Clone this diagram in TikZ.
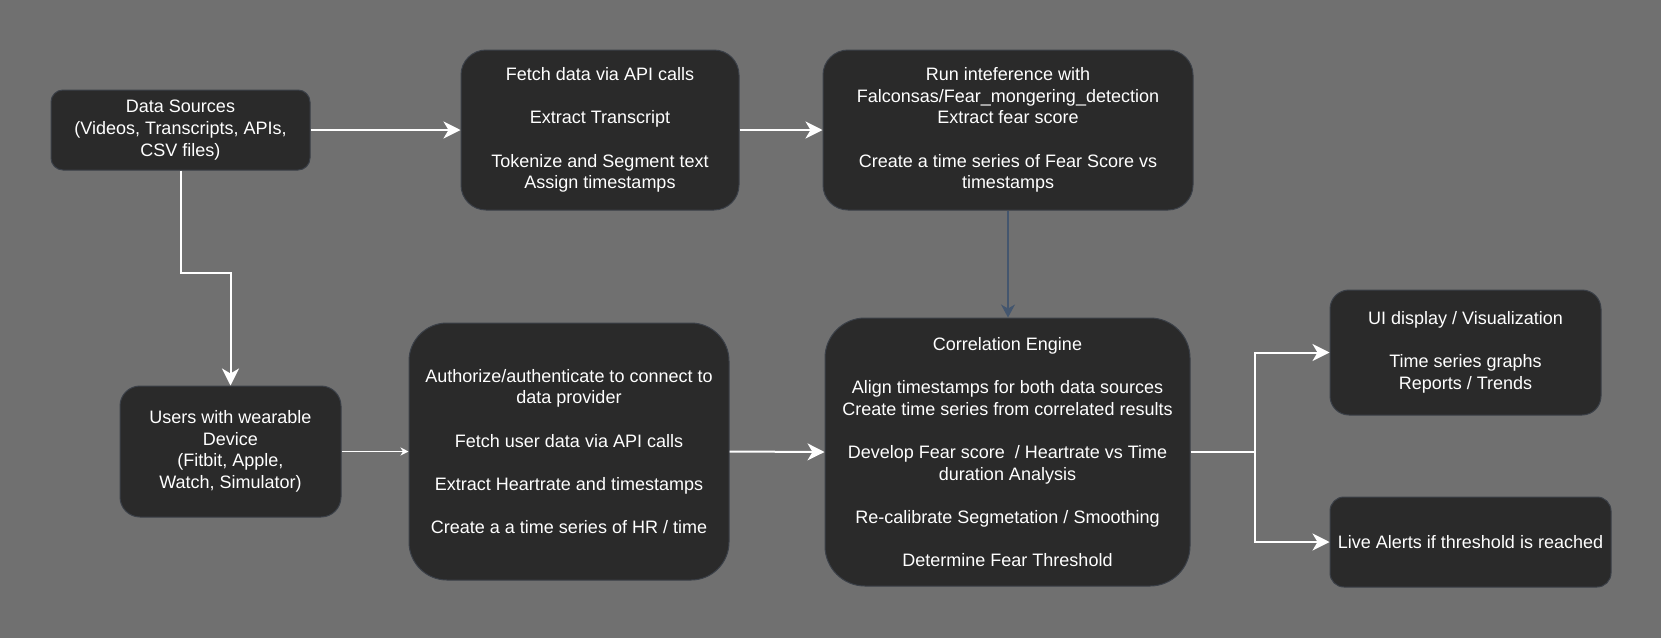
\documentclass[tikz,border=0pt]{standalone}
\usepackage{fontspec}
\setmainfont{Liberation Sans}
\usetikzlibrary{arrows.meta}
\definecolor{bg}{HTML}{707070}
\definecolor{boxfill}{HTML}{2A2A2A}
\definecolor{boxline}{HTML}{3B4048}
\definecolor{slate}{HTML}{44566E}
\begin{document}
\begin{tikzpicture}[x=1pt,y=-1pt,
  box/.style={draw=boxline, line width=1pt, fill=boxfill, text=white, align=center,
    font=\fontsize{18}{21.6}\selectfont, inner sep=0pt},
  flow/.style={draw=white, line width=2pt, -{Stealth[length=17pt,width=17pt,inset=5pt]}},
  thinflow/.style={draw=white, line width=1pt, -{Stealth[length=8pt,width=8pt,inset=2.5pt]}},
  slateflow/.style={draw=slate, line width=1.5pt, -{Stealth[length=13pt,width=14pt,inset=4pt]}},
]
\fill[bg] (0,0) rectangle (1661,638);
\useasboundingbox (0,0) rectangle (1661,638);

\node[box, minimum width=259pt, minimum height=80pt, rounded corners=12pt] (ds) at (180.5,130)
  {Data Sources\\(Videos, Transcripts, APIs,\\CSV files)};
\node[box, minimum width=278pt, minimum height=160pt, rounded corners=25pt] (fetch) at (600,130)
  {Fetch data via API calls\\[21.6pt]Extract Transcript\\[21.6pt]Tokenize and Segment text\\Assign timestamps};
\node[box, minimum width=370pt, minimum height=160pt, rounded corners=25pt] (run) at (1008,130)
  {Run inteference with\\Falconsas/Fear\_mongering\_detection\\Extract fear score\\[21.6pt]Create a time series of Fear Score vs\\timestamps};
\node[box, minimum width=221pt, minimum height=131pt, rounded corners=20pt] (users) at (230.5,451.5)
  {Users with wearable\\Device\\(Fitbit, Apple,\\Watch, Simulator)};
\node[box, minimum width=320pt, minimum height=257pt, rounded corners=38pt] (auth) at (569,451.5)
  {Authorize/authenticate to connect to\\data provider\\[21.6pt]Fetch user data via API calls\\[21.6pt]Extract Heartrate and timestamps\\[21.6pt]Create a a time series of HR / time};
\node[box, minimum width=365pt, minimum height=268pt, rounded corners=40pt] (corr) at (1007.5,452)
  {Correlation Engine\\[21.6pt]Align timestamps for both data sources\\Create time series from correlated results\\[21.6pt]Develop Fear score~ / Heartrate vs Time\\duration Analysis\\[21.6pt]Re-calibrate Segmetation / Smoothing\\[21.6pt]Determine Fear Threshold};
\node[box, minimum width=271pt, minimum height=125pt, rounded corners=19pt] (ui) at (1465.5,352.5)
  {UI display / Visualization\\[21.6pt]Time series graphs\\Reports / Trends};
\node[box, minimum width=281pt, minimum height=90pt, rounded corners=14pt] (live) at (1470.5,542)
  {Live Alerts if threshold is reached};

\coordinate (k1) at (180.5,273);
\coordinate (j) at (1255,452);
\draw[flow] (ds.east) -- (fetch.west);
\draw[flow] (fetch.east) -- (run.west);
\draw[flow] (ds.south) -- (k1) -| (users.north);
\draw[thinflow] (users.east) -- (auth.west);
\draw[flow] (auth.east) -- (corr.west);
\draw[slateflow] (run.south) -- (run.south |- corr.north);
\draw[flow] (corr.east) -- (j) |- (ui.west);
\draw[flow] (j) |- (live.west);
\end{tikzpicture}
\end{document}
